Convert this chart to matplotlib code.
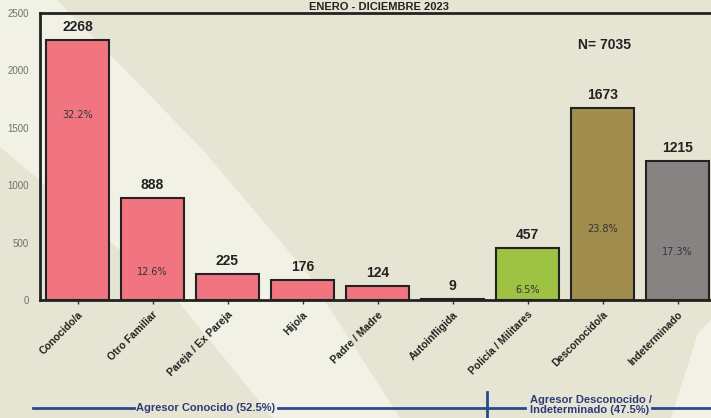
import matplotlib
matplotlib.use("Agg")
import matplotlib.pyplot as plt
from matplotlib.patches import Polygon
from matplotlib.lines import Line2D

categorias = ["Conocido/a", "Otro Familiar", "Pareja / Ex Pareja", "Hijo/a",
              "Padre / Madre", "Autoinfligida", "Policía / Militares",
              "Desconocido/a", "Indeterminado"]
casos = [2268, 888, 225, 176, 124, 9, 457, 1673, 1215]
porcentajes = ["32.2%", "12.6%", "", "", "", "", "6.5%", "23.8%", "17.3%"]
total = 7035
grupo_conocido = "Agresor Conocido (52.5%)"
grupo_desconocido = "Agresor Desconocido /\nIndeterminado (47.5%)"
titulo = "ENERO - DICIEMBRE 2023"

# layout / styling
pct_y = [1610, 245, 0, 0, 0, 0, 88, 620, 418]
colores = ["#F07580"] * 6 + ["#9DC244", "#A08C4C", "#878382"]
BEIGE = "#E6E5D3"
LIGHT = "#F1F1E6"
NAVY = "#2B4A8B"
W, H = 711, 418

plt.rcParams["font.family"] = ["Liberation Sans", "DejaVu Sans"]

fig = plt.figure(figsize=(W / 100, H / 100), dpi=100, facecolor=BEIGE)


def px(pts):
    return [(x / W, 1 - y / H) for x, y in pts]


# background stripes
franja = [(0, 0), (57, 0), (203, 150), (307, 273), (400, 418), (273, 418),
          (177, 300), (43, 183), (0, 147)]
fig.patches.append(Polygon(px(franja), closed=True, transform=fig.transFigure,
                           facecolor=LIGHT, edgecolor="none", zorder=-5))
esquina = [(711, 320), (711, 418), (671, 418), (698, 333)]
fig.patches.append(Polygon(px(esquina), closed=True, transform=fig.transFigure,
                           facecolor=LIGHT, edgecolor="none", zorder=-5))

ax = fig.add_axes([40 / W, (H - 300) / H, 675 / W, 287 / H])
ax.set_facecolor("none")
ax.set_zorder(2)

x = range(len(categorias))
ax.bar(x, casos, width=0.84, color=colores, edgecolor="#222222", linewidth=1.5, zorder=3)

for i, v in enumerate(casos):
    ax.text(i, v + 50, str(v), ha="center", va="bottom", fontsize=10,
            fontweight="bold", color="#222222", zorder=4)
    if porcentajes[i]:
        ax.text(i, pct_y[i], porcentajes[i], ha="center", va="center",
                fontsize=7, color="#333333", family=["DejaVu Sans"], zorder=4)

ax.text(7.03, 2220, f"N= {total}", ha="center", va="center", fontsize=10,
        fontweight="bold", color="#222222")

ax.set_xlim(-0.5, 8.5)
ax.set_ylim(0, 2500)
ax.set_yticks([0, 500, 1000, 1500, 2000, 2500])
ax.tick_params(axis="y", length=0, labelsize=7, labelcolor="#707070", pad=8)
ax.set_xticks(list(x))
ax.set_xticklabels(categorias, rotation=45, ha="right", rotation_mode="anchor",
                   fontsize=7.5, fontweight="bold", color="#222222")
ax.tick_params(axis="x", length=3, width=1, color="#333333", pad=4)

for s in ["left", "bottom", "top"]:
    ax.spines[s].set_color("#222222")
    ax.spines[s].set_linewidth(2)
ax.spines["right"].set_visible(False)

fig.text(379 / W, 1 - 6.5 / H, titulo, ha="center", va="center", fontsize=8,
         fontweight="bold", color="#222222")

# group brackets at the bottom
yl = 1 - 408 / H
for x0, x1 in [(33, 134), (278, 487), (487, 525), (652, 711)]:
    fig.add_artist(Line2D([x0 / W, x1 / W], [yl, yl], color=NAVY, linewidth=2))
fig.add_artist(Line2D([487 / W, 487 / W], [1 - 392 / H, 0], color=NAVY, linewidth=2))
fig.text(206 / W, yl, grupo_conocido, ha="center", va="center", fontsize=8,
         fontweight="bold", color="#2E3A7A")
fig.text(530 / W, 1 - 405 / H, grupo_desconocido, ha="left", va="center",
         fontsize=8, fontweight="bold", color="#2E3A7A", linespacing=1.05)

fig.savefig("out.png", dpi=100, facecolor=BEIGE)
